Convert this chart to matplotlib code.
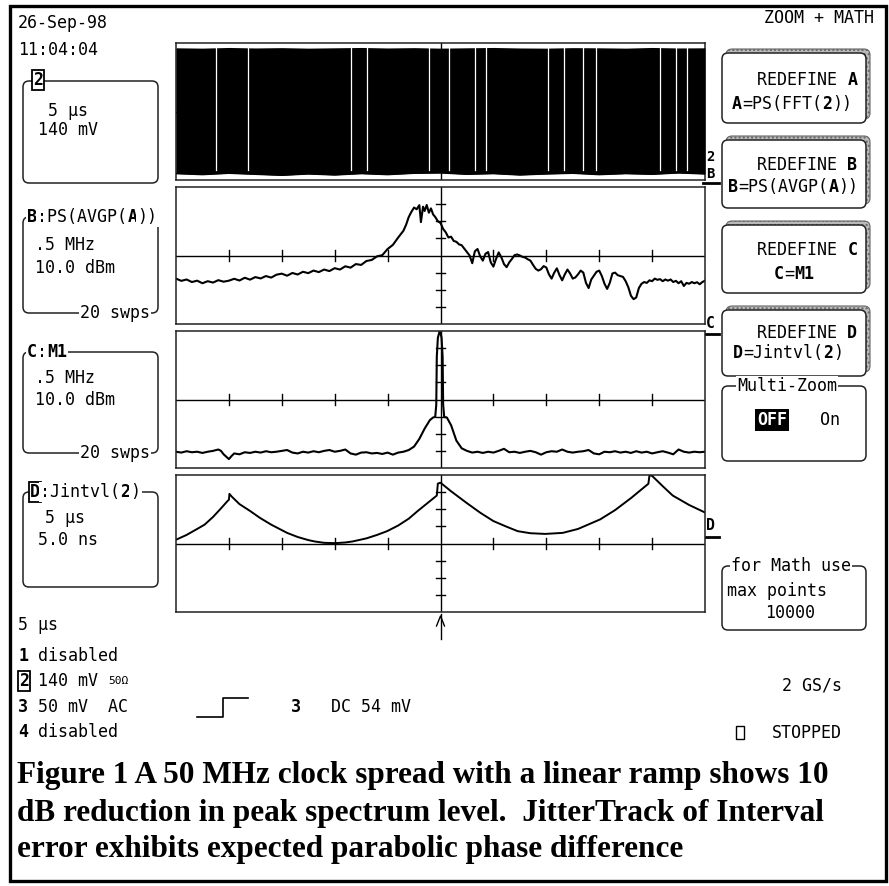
import numpy as np
import matplotlib.pyplot as plt
from matplotlib.patches import FancyBboxPatch, Rectangle

# %% trace data, in divisions (x 0..10, y -4..4)
# trace 2 (clock) shows as a solid band with a few aliasing gaps
a_x = [0, 0.5, 1, 1.5, 2, 2.5, 3, 3.5, 4, 4.5, 5, 5.5, 6, 6.5, 7, 7.5, 8, 8.5, 9, 9.5, 10]
a_top = [3.72, 3.70, 3.74, 3.71, 3.73, 3.70, 3.72, 3.74, 3.71, 3.73, 3.70, 3.72, 3.74, 3.71, 3.70, 3.73, 3.72, 3.70, 3.74, 3.71, 3.72]
a_bot = [-3.62, -3.68, -3.60, -3.66, -3.72, -3.64, -3.70, -3.62, -3.68, -3.60, -3.58, -3.66, -3.62, -3.70, -3.64, -3.60, -3.68, -3.62, -3.66, -3.58, -3.64]
a_gaps = [0.75, 1.37, 3.30, 3.62, 4.78, 5.17, 5.66, 5.86, 7.03, 7.34, 7.70, 7.94, 9.15, 9.46, 9.66]

# B = PS(AVGP(A)), averaged power spectrum
b_x = [0.0, 0.1, 0.2, 0.3, 0.4, 0.5, 0.6, 0.7, 0.8, 0.9, 1.0, 1.1, 1.2, 1.3, 1.4, 1.5, 1.6, 1.7, 1.8, 1.9,
       2.0, 2.1, 2.2, 2.3, 2.4, 2.5, 2.6, 2.7, 2.8, 2.9, 3.0, 3.1, 3.2, 3.3, 3.4, 3.5, 3.6, 3.7, 3.8, 3.9,
       4.0, 4.1, 4.2, 4.3, 4.35, 4.4, 4.45, 4.5, 4.55, 4.6, 4.63, 4.67, 4.7, 4.74, 4.78, 4.82, 4.86, 4.9, 4.95,
       5.0, 5.05, 5.1, 5.15, 5.2, 5.25, 5.3, 5.35, 5.4, 5.45, 5.5, 5.55, 5.6, 5.65, 5.7, 5.75, 5.8, 5.85, 5.9, 5.95,
       6.0, 6.05, 6.1, 6.15, 6.2, 6.25, 6.3, 6.35, 6.4, 6.45, 6.5, 6.55, 6.6, 6.65, 6.7, 6.75, 6.8, 6.85, 6.9, 6.95,
       7.0, 7.05, 7.1, 7.15, 7.2, 7.25, 7.3, 7.35, 7.4, 7.45, 7.5, 7.55, 7.6, 7.65, 7.7, 7.75, 7.8, 7.85, 7.9, 7.95,
       8.0, 8.05, 8.1, 8.15, 8.2, 8.25, 8.3, 8.35, 8.4, 8.45, 8.5, 8.55, 8.6, 8.65, 8.7, 8.75, 8.8, 8.85, 8.9, 8.95,
       9.0, 9.05, 9.1, 9.15, 9.2, 9.25, 9.3, 9.35, 9.4, 9.45, 9.5, 9.55, 9.6, 9.65, 9.7, 9.75, 9.8, 9.85, 9.9, 9.95, 10.0]
b_y = [-1.35, -1.48, -1.40, -1.55, -1.47, -1.62, -1.50, -1.58, -1.44, -1.53, -1.47, -1.36, -1.46, -1.30, -1.41, -1.26, -1.34, -1.20, -1.29, -1.12,
       -1.06, -1.18, -1.02, -1.11, -0.95, -1.03, -0.88, -0.97, -0.82, -0.91, -0.74, -0.82, -0.63, -0.71, -0.50, -0.55, -0.32, -0.26, -0.05, 0.02,
       0.38, 0.62, 1.05, 1.45, 1.80, 2.25, 2.55, 2.80, 2.70, 2.94, 1.95, 2.85, 2.60, 2.95, 2.50, 2.75, 2.40, 2.25, 2.00,
       1.90, 1.55, 1.35, 1.05, 1.10, 0.85, 0.80, 0.65, 0.60, 0.40, 0.20, 0.00, -0.45, 0.25, 0.38, -0.05, -0.30, 0.10, 0.20, -0.40,
       -0.65, -0.20, 0.18, -0.10, -0.50, -0.68, -0.40, -0.20, 0.02, 0.06, 0.00, -0.08, -0.12, -0.22, -0.30, -0.55, -0.78, -0.88, -0.80, -0.62,
       -0.70, -1.10, -1.35, -1.00, -0.75, -1.15, -1.45, -1.10, -0.82, -1.05, -1.35, -1.28, -1.10, -0.88, -1.00, -1.60, -1.90, -1.40, -1.18, -0.95,
       -0.88, -1.20, -1.65, -1.95, -1.60, -1.05, -1.00, -1.15, -1.20, -1.25, -1.50, -1.85, -2.35, -2.55, -2.45, -1.90, -1.65, -1.55, -1.60, -1.45,
       -1.50, -1.35, -1.42, -1.38, -1.50, -1.40, -1.47, -1.40, -1.55, -1.48, -1.62, -1.50, -1.78, -1.60, -1.65, -1.55, -1.62, -1.56, -1.68, -1.55, -1.47]

# C = M1, stored spectrum of the unspread clock
c_x = [0.0, 0.1, 0.2, 0.3, 0.4, 0.5, 0.6, 0.7, 0.8, 0.85, 0.9, 1.0, 1.05, 1.1, 1.2, 1.3, 1.4, 1.5, 1.6, 1.7, 1.8, 1.9,
       2.0, 2.1, 2.2, 2.3, 2.4, 2.5, 2.6, 2.7, 2.8, 2.9, 3.0, 3.1, 3.2, 3.3, 3.4, 3.5, 3.6, 3.7, 3.8, 3.9,
       4.0, 4.1, 4.2, 4.3, 4.4, 4.5, 4.6, 4.7, 4.8, 4.86, 4.9, 4.92, 4.93, 4.95, 4.98, 5.0, 5.02, 5.04, 5.05, 5.07, 5.12,
       5.2, 5.3, 5.4, 5.5, 5.6, 5.7, 5.8, 5.9, 6.0, 6.1, 6.2, 6.3, 6.4, 6.5, 6.6, 6.7, 6.8, 6.9,
       7.0, 7.1, 7.2, 7.3, 7.4, 7.5, 7.6, 7.7, 7.8, 7.9, 8.0, 8.1, 8.2, 8.3, 8.4, 8.5, 8.6, 8.7, 8.8, 8.9,
       9.0, 9.1, 9.2, 9.3, 9.4, 9.5, 9.6, 9.7, 9.8, 9.9, 10.0]
c_y = [-3.05, -3.10, -3.02, -3.08, -3.05, -3.12, -3.05, -3.00, -2.92, -3.00, -3.20, -3.48, -3.30, -3.15, -3.20, -3.08, -3.12, -3.05, -3.10, -3.02, -3.08, -3.05,
       -3.00, -2.95, -3.10, -3.15, -3.05, -3.10, -3.02, -3.08, -3.00, -2.95, -3.05, -3.00, -2.92, -3.15, -3.22, -3.10, -3.08, -3.15, -3.12, -3.18,
       -3.10, -3.22, -3.10, -3.05, -2.95, -2.75, -2.30, -1.70, -1.20, -1.05, -1.02, -0.30, 2.50, 3.60, 3.95, 3.90, 3.60, 2.50, -0.30, -1.02, -1.05,
       -1.50, -2.40, -2.85, -3.00, -3.10, -3.05, -3.12, -3.05, -3.10, -3.00, -2.88, -3.08, -3.05, -3.12, -3.05, -3.00, -3.08, -3.22,
       -3.08, -3.02, -3.05, -2.92, -3.05, -3.10, -3.05, -3.02, -2.95, -3.15, -3.20, -3.05, -3.08, -3.02, -3.10, -3.05, -3.12, -3.02, -3.10, -3.05,
       -3.15, -3.08, -3.02, -3.10, -3.20, -2.92, -3.05, -3.10, -3.05, -3.08, -3.05]

# D = Jintvl(2), interval error jitter track
d_x = [0.0, 0.2, 0.4, 0.54, 0.7, 0.85, 0.98, 1.0, 1.01, 1.05, 1.2, 1.4, 1.58, 1.8, 2.1, 2.3, 2.5, 2.62, 2.8, 3.01,
       3.2, 3.34, 3.6, 3.8, 3.99, 4.2, 4.4, 4.57, 4.75, 4.93, 4.95, 5.0, 5.2, 5.48, 5.75, 6.0, 6.25, 6.46, 6.7, 6.98,
       7.31, 7.6, 8.02, 8.3, 8.6, 8.93, 8.95, 9.0, 9.2, 9.39, 9.7, 10.0]
d_y = [0.22, 0.50, 0.85, 1.10, 1.55, 2.05, 2.50, 2.55, 2.90, 2.75, 2.30, 1.90, 1.51, 1.10, 0.62, 0.38, 0.20, 0.12, 0.04, 0.02,
       0.06, 0.12, 0.30, 0.50, 0.72, 1.05, 1.45, 1.90, 2.35, 2.80, 3.50, 3.55, 3.05, 2.40, 1.80, 1.31, 0.98, 0.72, 0.60, 0.56,
       0.62, 0.85, 1.41, 1.95, 2.65, 3.49, 3.98, 3.95, 3.35, 2.80, 2.25, 1.81]

# %% figure, one pixel axes for the screen furniture
W, H = 889, 886
fig = plt.figure(figsize=(W / 100, H / 100), dpi=100)
bg = fig.add_axes([0, 0, 1, 1])
bg.set_xlim(0, W)
bg.set_ylim(H, 0)
bg.axis("off")

MONO = "DejaVu Sans Mono"
FS = 12


def mono(x, y, parts, fs=FS, **kw):
    # monospace text, parts is a list of (string, bold)
    cw = 0.602 * fs * 100 / 72
    for s, b in parts:
        bg.text(x, y, s, fontfamily=MONO, fontweight="bold" if b else "normal",
                fontsize=fs, va="center", ha="left", **kw)
        x += len(s) * cw


def rbox(x, y, w, h, r=6, **kw):
    bg.add_patch(FancyBboxPatch((x, y), w, h, boxstyle=f"round,pad=0,rounding_size={r}",
                                fc=kw.get("fc", "white"), ec=kw.get("ec", "#222222"),
                                lw=kw.get("lw", 1.1), hatch=kw.get("hatch", None)))


white = dict(fc="white", ec="none", pad=1)
boxed = dict(boxstyle="square,pad=0.08", fc="white", ec="black", lw=1.3)

# outer frame
bg.add_patch(Rectangle((10, 6), 876, 875, fill=False, ec="black", lw=2.4))

# %% the four trace panels
PX0, PX1 = 176, 705
panel_y = [(43, 180), (187, 324), (331, 468), (475, 612)]
axes = []
for (y0, y1) in panel_y:
    ax = fig.add_axes([PX0 / W, 1 - y1 / H, (PX1 - PX0) / W, (y1 - y0) / H])
    ax.set_xlim(0, 10)
    ax.set_ylim(-4, 4)
    ax.set_xticks([])
    ax.set_yticks([])
    for sp in ax.spines.values():
        sp.set_linewidth(1.1)
        sp.set_color("#222222")
    ax.axhline(0, color="black", lw=1.0)
    ax.axvline(5, color="black", lw=1.0)
    for k in [1, 2, 3, 4, 6, 7, 8, 9]:
        ax.plot([k, k], [-0.32, 0.32], color="black", lw=1.0)
    for k in [-3, -2, -1, 1, 2, 3]:
        ax.plot([4.92, 5.08], [k, k], color="black", lw=1.0)
    axes.append(ax)

axA, axB, axC, axD = axes
axA.fill_between(a_x, a_bot, a_top, color="black", lw=0, zorder=3)
axA.plot(a_x, a_bot, color="black", lw=1.2, zorder=3)
for g in a_gaps:
    axA.plot([g, g], [-3.4, 3.72], color="white", lw=0.9, zorder=4)

axB.plot(b_x, b_y, color="black", lw=1.5)
axC.plot(c_x, c_y, color="black", lw=1.5)
axD.plot(d_x, d_y, color="black", lw=1.4)

# trigger arrow under the bottom panel
cx = (PX0 + PX1) / 2
bg.plot([cx, cx], [614, 639], color="black", lw=1.0)
bg.plot([cx - 4, cx, cx + 4], [626, 616, 626], color="black", lw=1.0)

# trace markers on the right
mono(706, 157, [("2", True)], fs=10)
mono(706, 174, [("B", True)], fs=10)
bg.plot([703, 719], [183, 183], color="black", lw=2)
mono(706, 324, [("C", True)], fs=10.5)
bg.plot([703, 719], [334, 334], color="black", lw=2)
mono(706, 526, [("D", True)], fs=10.5)
bg.plot([703, 719], [537, 537], color="black", lw=2)

# %% left side readouts
mono(18, 23, [("26-Sep-98", False)])
mono(18, 50, [("11:04:04", False)])

rbox(23, 81, 135, 102)
bg.text(33, 80, "2", fontfamily=MONO, fontweight="bold", fontsize=FS, va="center", bbox=boxed)
mono(48, 111, [("5 µs", False)])
mono(38, 130, [("140 mV", False)])

rbox(23, 217, 135, 96)
mono(27, 217, [("B", True), (":PS(AVGP(", False), ("A", True), ("))", False)], bbox=white)
mono(35, 245, [(".5 MHz", False)])
mono(35, 268, [("10.0 dBm", False)])
mono(80, 313, [("20 swps", False)], bbox=white)

rbox(23, 352, 135, 101)
mono(27, 352, [("C", True), (":", False), ("M1", True)], bbox=white)
mono(35, 378, [(".5 MHz", False)])
mono(35, 400, [("10.0 dBm", False)])
mono(80, 453, [("20 swps", False)], bbox=white)

rbox(23, 492, 135, 95)
bg.text(30, 492, "D", fontfamily=MONO, fontweight="bold", fontsize=FS, va="center", bbox=boxed)
mono(40, 492, [(":Jintvl(", False), ("2", True), (")", False)], bbox=white)
mono(45, 518, [("5 µs", False)])
mono(38, 540, [("5.0 ns", False)])

mono(18, 625, [("5 µs", False)])

# channel list at the bottom
mono(18, 656, [("1", True), (" disabled", False)])
bg.text(19, 681, "2", fontfamily=MONO, fontweight="bold", fontsize=FS, va="center", bbox=boxed)
mono(38, 681, [("140 mV", False)])
mono(108, 681, [("50Ω", False)], fs=8)
mono(18, 707, [("3", True), (" 50 mV  AC", False)])
mono(18, 732, [("4", True), (" disabled", False)])
bg.plot([197, 223, 223, 248], [717, 717, 698, 698], color="black", lw=1.2)
mono(291, 707, [("3", True), ("   DC 54 mV", False)])

# %% right side soft keys
mono(764, 18, [("ZOOM + MATH", False)])
buttons = [(53, 123), (140, 208), (225, 293), (310, 376)]
for (y0, y1) in buttons:
    rbox(726, y0 - 4, 144, y1 - y0, fc="#bbbbbb", ec="#666666", lw=0.8, hatch="....")
    rbox(722, y0, 144, y1 - y0)

mono(757, 80, [("REDEFINE ", False), ("A", True)])
mono(732, 104, [("A", True), ("=PS(FFT(", False), ("2", True), ("))", False)])
mono(757, 165, [("REDEFINE ", False), ("B", True)])
mono(728, 187, [("B", True), ("=PS(AVGP(", False), ("A", True), ("))", False)])
mono(757, 250, [("REDEFINE ", False), ("C", True)])
mono(774, 274, [("C", True), ("=", False), ("M1", True)])
mono(757, 333, [("REDEFINE ", False), ("D", True)])
mono(733, 353, [("D", True), ("=Jintvl(", False), ("2", True), (")", False)])

rbox(722, 386, 144, 75)
mono(737, 386, [("Multi-Zoom", False)], bbox=white)
bg.text(757, 420, "OFF", fontfamily=MONO, fontweight="bold", fontsize=FS, va="center",
        color="white", bbox=dict(fc="black", ec="none", pad=1.5))
mono(820, 420, [("On", False)])

rbox(722, 566, 144, 64)
mono(731, 566, [("for Math use", False)], bbox=white)
mono(727, 591, [("max points", False)])
mono(765, 613, [("10000", False)])

bg.text(842, 686, "2 GS/s", fontfamily=MONO, fontsize=FS, va="center", ha="right")
bg.add_patch(Rectangle((736, 726), 8, 13, fill=False, ec="black", lw=1.0))
bg.text(842, 733, "STOPPED", fontfamily=MONO, fontsize=FS, va="center", ha="right")

# %% caption
caption = ["Figure 1 A 50 MHz clock spread with a linear ramp shows 10",
           "dB reduction in peak spectrum level.  JitterTrack of Interval",
           "error exhibits expected parabolic phase difference"]
for i, line in enumerate(caption):
    bg.text(17, 776 + 37 * i, line, fontfamily="Liberation Serif", fontweight="bold",
            fontsize=22.5, va="center", ha="left")

fig.savefig("out.png", dpi=100)
